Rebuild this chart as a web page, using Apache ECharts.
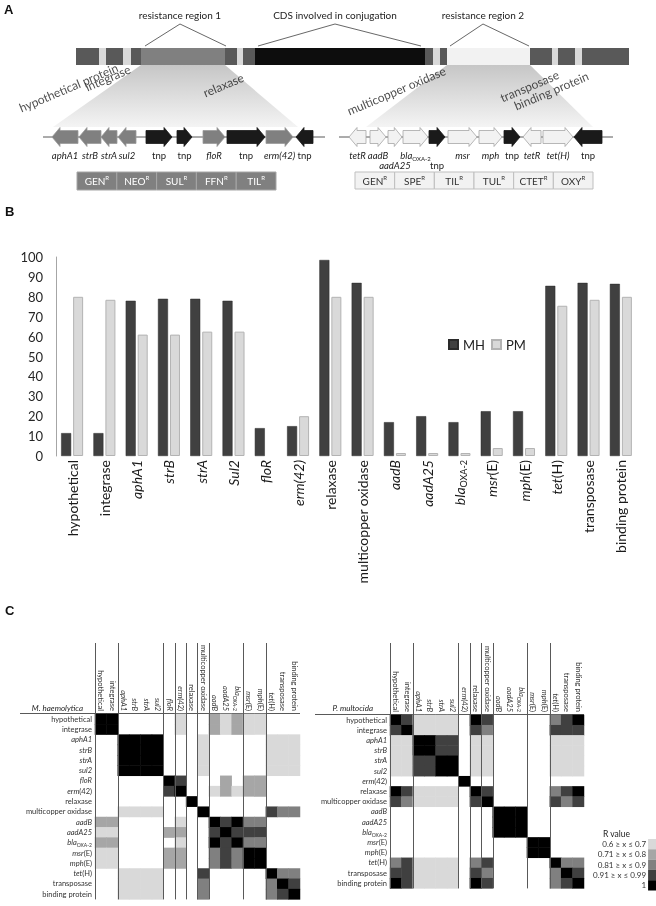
<!DOCTYPE html>
<html>
<head>
<meta charset="utf-8">
<title>resistance plasmid</title>
<script src="https://cdn.jsdelivr.net/npm/echarts@6.0.0/dist/echarts.min.js"></script>
<style>
html,body{margin:0;padding:0;background:#fff;}
#main{width:656px;height:906px;}
#main svg{will-change:transform;}
</style>
</head>
<body>
<div id="main"></div>
<script>
var FONT = 'Lato, "Noto Sans", sans-serif';

// ---- A: plasmid map (positions in map units) ----
var plasmidSegs = [[76,99,'orf'],[99,106,'gap'],[106,123,'orf'],[123,131,'gap'],[131,141,'orf'],
  [141,225,'res1'],[225,237,'orf'],[237,243,'gap'],[243,255,'orf'],[255,425,'tra'],[425,433,'orf'],
  [433,440,'gap'],[440,447,'orf'],[447,530,'res2'],[530,552,'orf'],[552,558,'gap'],[558,575,'orf'],
  [575,582,'gap'],[582,629,'orf']];
var regionNames = ['resistance region 1', 'CDS involved in conjugation', 'resistance region 2'];
var regionSpans = [[145,226,180],[258,421,335],[450,529,483]];
var regionLinks = [[141,225,53,298],[447,530,366,593]];
var geneRows = [[43,325],[339,613]];
// name, start, end, strand, kind, label line
var genesRegion1 = [['aphA1',52,78,-1,'res',0],['strB',79,101,-1,'res',0],['strA',101,117,-1,'res',0],
  ['sul2',118,136,-1,'res',0],['tnp',146,172,1,'tnp',0],['tnp',177,192,1,'tnp',0],['floR',203,225,1,'res',0],
  ['tnp',227,265,1,'tnp',0],['erm(42)',266,293,1,'res',0],['tnp',296,313,-1,'tnp',0]];
var genesRegion2 = [['tetR',349,366,-1,'res2',0],['aadB',370,386,1,'res2',0],['aadA25',388,402,1,'res2',1],
  ['blaOXA-2',403,428,1,'res2',0],['tnp',429,445,1,'tnp',1],['msr',448,477,1,'res2',0],['mph',479,502,1,'res2',0],
  ['tnp',504,520,1,'tnp',0],['tetR',523,541,-1,'res2',0],['tet(H)',543,573,1,'res2',0],['tnp',574,602,-1,'tnp',0]];
var drugs1 = ['GEN','NEO','SUL','FFN','TIL'];
var drugs2 = ['GEN','SPE','TIL','TUL','CTET','OXY'];
var cdsNotes = ['hypothetical protein','integrase','relaxase','multicopper oxidase','transposase','binding protein'];
var cdsNoteAt = [[22,114],[88,93],[206,99],[350,117],[503,104],[517,112]];

// ---- B: % of isolates carrying each gene ----
var genes = ['hypothetical','integrase','aphA1','strB','strA','Sul2','floR','erm(42)','relaxase',
  'multicopper oxidase','aadB','aadA25','blaOXA-2','msr(E)','mph(E)','tet(H)','transposase','binding protein'];
var mhPct = [11.5,11.5,78,79,79,78,14,15,98.5,87,17,20,17,22.5,22.5,85.5,87,86.5];
var pmPct = [80,78.5,61,61,62.5,62.5,null,20,80,80,1.5,1.5,1.5,4,4,75.5,78.5,80];

// ---- C: correlation classes (0 none, 1..5 legend classes) ----
var mhGenes = ['hypothetical','integrase','aphA1','strB','strA','sul2','floR','erm(42)','relaxase',
  'multicopper oxidase','aadB','aadA25','blaOXA-2','msr(E)','mph(E)','tet(H)','transposase','binding protein'];
var mhGroups = [2,4,1,1,1,1,3,2,3];
var mhR = [
  [5,5,0,0,0,0,0,1,0,0,2,1,2,1,1,0,0,0],
  [5,5,0,0,0,0,0,1,0,0,2,1,2,1,1,0,0,0],
  [0,0,5,5,5,5,0,0,0,1,0,0,0,0,0,1,1,1],
  [0,0,5,5,5,5,0,0,0,1,0,0,0,0,0,1,1,1],
  [0,0,5,5,5,5,0,0,0,1,0,0,0,0,0,1,1,1],
  [0,0,5,5,5,5,0,0,0,1,0,0,0,0,0,1,1,1],
  [0,0,0,0,0,0,5,4,0,0,0,2,0,2,2,0,0,0],
  [0,0,0,0,0,0,4,5,0,0,1,2,1,2,2,0,0,0],
  [0,0,0,0,0,0,0,0,5,0,0,0,0,0,0,0,0,0],
  [0,0,1,1,1,1,0,0,0,5,0,0,0,0,0,4,3,3],
  [2,2,0,0,0,0,0,1,0,0,5,4,5,3,3,0,0,0],
  [1,1,0,0,0,0,2,2,0,0,4,5,4,4,4,0,0,0],
  [2,2,0,0,0,0,0,1,0,0,5,4,5,3,3,0,0,0],
  [1,1,0,0,0,0,2,2,0,0,3,4,3,5,5,0,0,0],
  [1,1,0,0,0,0,2,2,0,0,3,4,3,5,5,0,0,0],
  [0,0,1,1,1,1,0,0,0,4,0,0,0,0,0,5,3,3],
  [0,0,1,1,1,1,0,0,0,3,0,0,0,0,0,3,5,4],
  [0,0,1,1,1,1,0,0,0,3,0,0,0,0,0,3,4,5]
];
var pmGenes = ['hypothetical','integrase','aphA1','strB','strA','sul2','erm(42)','relaxase',
  'multicopper oxidase','aadB','aadA25','blaOXA-2','msr(E)','mph(E)','tet(H)','transposase','binding protein'];
var pmGroups = [2,4,1,1,1,3,2,3];
var pmR = [
  [5,4,1,1,1,1,0,5,4,0,0,0,0,0,3,4,5],
  [4,5,1,1,1,1,0,4,3,0,0,0,0,0,4,4,4],
  [1,1,5,5,4,4,0,1,1,0,0,0,0,0,1,1,1],
  [1,1,5,5,4,4,0,1,1,0,0,0,0,0,1,1,1],
  [1,1,4,4,5,5,0,1,1,0,0,0,0,0,1,1,1],
  [1,1,4,4,5,5,0,1,1,0,0,0,0,0,1,1,1],
  [0,0,0,0,0,0,5,0,0,0,0,0,0,0,0,0,0],
  [5,4,1,1,1,1,0,5,4,0,0,0,0,0,3,4,5],
  [4,3,1,1,1,1,0,4,5,0,0,0,0,0,4,3,4],
  [0,0,0,0,0,0,0,0,0,5,5,5,0,0,0,0,0],
  [0,0,0,0,0,0,0,0,0,5,5,5,0,0,0,0,0],
  [0,0,0,0,0,0,0,0,0,5,5,5,0,0,0,0,0],
  [0,0,0,0,0,0,0,0,0,0,0,0,5,5,0,0,0],
  [0,0,0,0,0,0,0,0,0,0,0,0,5,5,0,0,0],
  [3,4,1,1,1,1,0,3,4,0,0,0,0,0,5,3,3],
  [4,4,1,1,1,1,0,4,3,0,0,0,0,0,3,5,4],
  [5,4,1,1,1,1,0,5,4,0,0,0,0,0,3,4,5]
];
var rClasses = ['0.6 \u2265 x \u2264 0.7','0.71 \u2265 x \u2264 0.8','0.81 \u2265 x \u2264 0.9','0.91 \u2265 x \u2264 0.99','1'];

// layout
var BAR_TOP = 48, BAR_BOT = 65, TRAP_BOT = 127, GENE_Y = 137, APEX_Y = 24, TITLE_Y = 15;
var LABEL_Y = [155, 165];
var NOTE_ROTATE = 23;
var drugSpans = [[77,276],[355,593]];
var segColor = {orf:'#595959', gap:'#d9d9d9', res1:'#808080', tra:'#0d0d0d', res2:'#f2f2f2'};
var geneStyle = {res:{fill:'#808080', stroke:'#9a9a9a'}, tnp:{fill:'#1a1a1a', stroke:'#1a1a1a'}, res2:{fill:'#f2f2f2', stroke:'#a6a6a6'}};
var classColor = ['#d9d9d9','#a6a6a6','#808080','#404040','#000000'];
var plainNames = ['hypothetical','integrase','relaxase','multicopper oxidase','transposase','binding protein','tnp'];

var allGenes = genesRegion1.concat(genesRegion2);

function fmtGene(n, splitParen) {
  if (plainNames.indexOf(n) >= 0) return n;
  if (n === 'blaOXA-2') return '{i|bla}{s|OXA-2}';
  var k = n.indexOf('(');
  if (k > 0 && (splitParen || n !== 'erm(42)')) return '{i|' + n.slice(0, k) + '}' + n.slice(k);
  return '{i|' + n + '}';
}
function fmtMap(n) {
  if (n === 'tnp') return n;
  if (n === 'blaOXA-2') return '{i|bla}{s|OXA-2}';
  return '{i|' + n + '}';
}
function boundaries(groups) {
  var out = [[0, 0]], acc = 0;
  for (var i = 0; i < groups.length - 1; i++) { acc += groups[i]; out.push([acc, 0]); }
  return out;
}
function cells(m) {
  var out = [];
  m.forEach(function (row, r) {
    row.forEach(function (v, c) { if (v > 0) out.push([c, r, v]); });
  });
  return out;
}

var richMap = {
  i: {fontStyle:'italic', fontSize:9.5, fontFamily:FONT, fill:'#222', lineHeight:12},
  s: {fontSize:6, fontFamily:FONT, verticalAlign:'bottom', fill:'#222'}
};

function renderTrap(params, api) {
  var a = api.coord([api.value(0), BAR_BOT]), b = api.coord([api.value(1), BAR_BOT]);
  var c = api.coord([api.value(3), TRAP_BOT]), d = api.coord([api.value(2), TRAP_BOT]);
  return {type:'polygon', shape:{points:[a,b,c,d]},
    style:{fill:new echarts.graphic.LinearGradient(0,0,0,1,[{offset:0,color:'#c6c6c6'},{offset:1,color:'#f4f4f4'}])}};
}
function renderBackbone(params, api) {
  var a = api.coord([api.value(0), GENE_Y]), b = api.coord([api.value(1), GENE_Y]);
  return {type:'line', shape:{x1:a[0], y1:a[1], x2:b[0], y2:b[1]}, style:{stroke:'#595959', lineWidth:1}};
}
function renderSeg(params, api) {
  var a = api.coord([api.value(0), BAR_TOP]), b = api.coord([api.value(1), BAR_BOT]);
  return {type:'rect', shape:{x:a[0], y:a[1], width:b[0]-a[0], height:b[1]-a[1]},
    style:{fill:segColor[plasmidSegs[params.dataIndex][2]]}};
}
function renderCallout(params, api) {
  var s = api.coord([api.value(0), BAR_TOP - 2]), e = api.coord([api.value(1), BAR_TOP - 2]);
  var p = api.coord([api.value(2), APEX_Y]), t = api.coord([api.value(2), TITLE_Y]);
  return {type:'group', children:[
    {type:'polyline', shape:{points:[s, p, e]}, style:{stroke:'#404040', lineWidth:0.8, fill:null}},
    {type:'text', x:t[0], y:t[1], style:{text:regionNames[params.dataIndex], align:'center', verticalAlign:'middle',
      fontSize:10, fontFamily:FONT, fill:'#222'}}
  ]};
}
function renderGene(params, api) {
  var g = allGenes[params.dataIndex];
  var a = api.coord([api.value(0), GENE_Y]), b = api.coord([api.value(1), GENE_Y]);
  var x0 = a[0], x1 = b[0], cy = a[1];
  var bh = 6.5, hh = 9.5, hl = Math.min(8, (x1 - x0) * 0.55);
  var pts;
  if (g[3] > 0) {
    pts = [[x0,cy-bh],[x1-hl,cy-bh],[x1-hl,cy-hh],[x1,cy],[x1-hl,cy+hh],[x1-hl,cy+bh],[x0,cy+bh]];
  } else {
    pts = [[x1,cy-bh],[x0+hl,cy-bh],[x0+hl,cy-hh],[x0,cy],[x0+hl,cy+hh],[x0+hl,cy+bh],[x1,cy+bh]];
  }
  var st = geneStyle[g[4]];
  var ly = api.coord([0, LABEL_Y[g[5]]])[1];
  return {type:'group', children:[
    {type:'polygon', shape:{points:pts}, style:{fill:st.fill, stroke:st.stroke, lineWidth:0.8}},
    {type:'text', x:(x0 + x1) / 2, y:ly, style:{text:fmtMap(g[0]), rich:richMap, align:'center', verticalAlign:'middle',
      fontSize:9.5, fontFamily:FONT, fill:'#222'}}
  ]};
}
function renderDrug(params, api) {
  var r = api.value(0), i = api.value(1);
  var list = r === 0 ? drugs1 : drugs2, span = drugSpans[r];
  var w = (span[1] - span[0]) / list.length;
  var a = api.coord([span[0] + i * w, 172]), b = api.coord([span[0] + (i + 1) * w, r === 0 ? 190 : 189]);
  var dark = r === 0;
  var tc = dark ? '#ffffff' : '#333333';
  return {type:'group', children:[
    {type:'rect', shape:{x:a[0], y:a[1], width:b[0]-a[0], height:b[1]-a[1]},
      style:{fill:dark ? '#808080' : '#f2f2f2', stroke:dark ? '#a6a6a6' : '#bfbfbf', lineWidth:1}},
    {type:'text', x:(a[0] + b[0]) / 2, y:(a[1] + b[1]) / 2, style:{text:'{a|' + list[i] + '}{r|R}', align:'center', verticalAlign:'middle',
      rich:{a:{fontSize:10, fontFamily:FONT, fill:tc, lineHeight:13}, r:{fontSize:6, fontFamily:FONT, fill:tc, verticalAlign:'top'}}}}
  ]};
}
function sepRenderer(nRows, ext) {
  return function (params, api) {
    var i = api.value(0);
    var sz = api.size([1, 1]);
    var c0 = api.coord([i, 0]), c1 = api.coord([i, nRows - 1]);
    var x = Math.round(c0[0] - sz[0] / 2) + 0.5;
    return {type:'line', shape:{x1:x, y1:c0[1] - sz[1] / 2 - ext, x2:x, y2:c1[1] + sz[1] / 2},
      style:{stroke:'#595959', lineWidth:1}};
  };
}

var drugData = [];
drugs1.forEach(function (d, i) { drugData.push([0, i]); });
drugs2.forEach(function (d, i) { drugData.push([1, i]); });

var graphics = [
  {type:'text', left:4, top:3, style:{text:'A', font:'bold 13px "Liberation Sans"', fill:'#111'}},
  {type:'text', left:5, top:205, style:{text:'B', font:'bold 13px "Liberation Sans"', fill:'#111'}},
  {type:'text', left:5, top:604, style:{text:'C', font:'bold 13px "Liberation Sans"', fill:'#111'}},
  {type:'text', x:83, y:712, style:{text:'M. haemolytica', align:'right', verticalAlign:'bottom', fontStyle:'italic', fontSize:8, fontFamily:FONT, fill:'#222'}},
  {type:'text', x:373, y:712, style:{text:'P. multocida', align:'right', verticalAlign:'bottom', fontStyle:'italic', fontSize:8, fontFamily:FONT, fill:'#222'}},
  {type:'line', shape:{x1:20, y1:713.5, x2:300, y2:713.5}, style:{stroke:'#595959', lineWidth:1}},
  {type:'line', shape:{x1:315, y1:714.5, x2:584, y2:714.5}, style:{stroke:'#595959', lineWidth:1}},
  {type:'text', x:603, y:834, style:{text:'R value', verticalAlign:'middle', fontSize:8.5, fontFamily:FONT, fill:'#222'}}
];

var chart = echarts.init(document.getElementById('main'), null, {renderer:'svg'});
var option = {
  animation: false,
  textStyle: {fontFamily: FONT},
  graphic: graphics,
  grid: [
    {left:0, top:0, width:656, height:200, outerBoundsMode:'none'},
    {left:56, top:257, width:581, height:199, outerBoundsMode:'none'},
    {left:95, top:714, width:205, height:185.4, outerBoundsMode:'none'},
    {left:390, top:715, width:194, height:173.4, outerBoundsMode:'none'}
  ],
  xAxis: [
    {type:'value', gridIndex:0, min:0, max:656, show:false},
    {type:'category', gridIndex:1, data:genes, axisLine:{show:false}, axisTick:{show:false},
      axisLabel:{interval:0, rotate:90, margin:4, fontSize:14, color:'#1a1a1a', fontFamily:FONT,
        formatter:function (v) { return fmtGene(v, false); },
        rich:{i:{fontStyle:'italic', fontSize:14, fontFamily:FONT, color:'#1a1a1a', lineHeight:18},
              s:{fontSize:9, fontFamily:FONT, color:'#1a1a1a', verticalAlign:'bottom'}}}},
    {type:'category', gridIndex:2, position:'top', data:mhGenes, axisLine:{show:false}, axisTick:{show:false},
      axisLabel:{interval:0, rotate:90, margin:3, fontSize:7.5, color:'#333', fontFamily:FONT,
        formatter:function (v) { return fmtGene(v, true); },
        rich:{i:{fontStyle:'italic', fontSize:7.5, fontFamily:FONT, color:'#333', lineHeight:10},
              s:{fontSize:5, fontFamily:FONT, color:'#333', verticalAlign:'bottom'}}}},
    {type:'category', gridIndex:3, position:'top', data:pmGenes, axisLine:{show:false}, axisTick:{show:false},
      axisLabel:{interval:0, rotate:90, margin:3, fontSize:7.5, color:'#333', fontFamily:FONT,
        formatter:function (v) { return fmtGene(v, true); },
        rich:{i:{fontStyle:'italic', fontSize:7.5, fontFamily:FONT, color:'#333', lineHeight:10},
              s:{fontSize:5, fontFamily:FONT, color:'#333', verticalAlign:'bottom'}}}}
  ],
  yAxis: [
    {type:'value', gridIndex:0, min:0, max:200, inverse:true, show:false},
    {type:'value', gridIndex:1, min:0, max:100, interval:10, splitLine:{show:false},
      axisLine:{show:true, lineStyle:{color:'#a6a6a6', width:1}}, axisTick:{show:false},
      axisLabel:{fontSize:13, color:'#262626', margin:13, fontFamily:FONT}},
    {type:'category', gridIndex:2, inverse:true, data:mhGenes, axisLine:{show:false}, axisTick:{show:false},
      axisLabel:{interval:0, margin:3, fontSize:7.5, color:'#333', fontFamily:FONT,
        formatter:function (v) { return fmtGene(v, true); },
        rich:{i:{fontStyle:'italic', fontSize:7.5, fontFamily:FONT, color:'#333', lineHeight:10},
              s:{fontSize:5, fontFamily:FONT, color:'#333', verticalAlign:'bottom'}}}},
    {type:'category', gridIndex:3, inverse:true, data:pmGenes, axisLine:{show:false}, axisTick:{show:false},
      axisLabel:{interval:0, margin:3, fontSize:7.5, color:'#333', fontFamily:FONT,
        formatter:function (v) { return fmtGene(v, true); },
        rich:{i:{fontStyle:'italic', fontSize:7.5, fontFamily:FONT, color:'#333', lineHeight:10},
              s:{fontSize:5, fontFamily:FONT, color:'#333', verticalAlign:'bottom'}}}}
  ],
  legend: {data:['MH','PM'], left:443, top:333, icon:'rect', itemWidth:9, itemHeight:9, itemGap:6,
    textStyle:{fontSize:13, color:'#222', fontFamily:FONT}, selectedMode:false},
  visualMap: {type:'piecewise', seriesIndex:[9, 10], orient:'vertical', inverse:true, left:593, top:839,
    itemWidth:8, itemHeight:10.3, itemGap:0, itemSymbol:'rect', textGap:2, padding:0, selectedMode:false,
    textStyle:{fontSize:8, color:'#333', fontFamily:FONT},
    pieces: rClasses.map(function (t, k) { return {value:k + 1, label:t, color:classColor[k]}; })},
  series: [
    {type:'custom', xAxisIndex:0, yAxisIndex:0, clip:false, silent:true, renderItem:renderTrap, data:regionLinks},
    {type:'custom', xAxisIndex:0, yAxisIndex:0, clip:false, silent:true, renderItem:renderBackbone, data:geneRows},
    {type:'custom', xAxisIndex:0, yAxisIndex:0, clip:false, silent:true, renderItem:renderSeg,
      data:plasmidSegs.map(function (s) { return [s[0], s[1]]; })},
    {type:'custom', xAxisIndex:0, yAxisIndex:0, clip:false, silent:true, renderItem:renderCallout, data:regionSpans},
    {type:'scatter', xAxisIndex:0, yAxisIndex:0, silent:true, symbolSize:0, data:cdsNoteAt, z:5,
      label:{show:true, position:[0, 0], rotate:NOTE_ROTATE, align:'left', verticalAlign:'bottom', fontSize:12,
        fontFamily:FONT, color:'#222', formatter:function (p) { return cdsNotes[p.dataIndex]; }},
      labelLayout:{hideOverlap:false}},
    {type:'custom', xAxisIndex:0, yAxisIndex:0, clip:false, silent:true, renderItem:renderGene,
      data:allGenes.map(function (g) { return [g[1], g[2]]; })},
    {type:'custom', xAxisIndex:0, yAxisIndex:0, clip:false, silent:true, renderItem:renderDrug, data:drugData},
    {name:'MH', type:'bar', xAxisIndex:1, yAxisIndex:1, data:mhPct, barWidth:10, barGap:'20%',
      itemStyle:{color:'#404040', borderColor:'#2a2a2a', borderWidth:0.5}},
    {name:'PM', type:'bar', xAxisIndex:1, yAxisIndex:1, data:pmPct, barWidth:10, barGap:'20%',
      itemStyle:{color:'#d9d9d9', borderColor:'#b3b3b3', borderWidth:1}},
    {type:'heatmap', xAxisIndex:2, yAxisIndex:2, data:cells(mhR), emphasis:{disabled:true}},
    {type:'heatmap', xAxisIndex:3, yAxisIndex:3, data:cells(pmR), emphasis:{disabled:true}},
    {type:'custom', xAxisIndex:2, yAxisIndex:2, clip:false, silent:true, renderItem:sepRenderer(mhGenes.length, 71), data:boundaries(mhGroups)},
    {type:'custom', xAxisIndex:3, yAxisIndex:3, clip:false, silent:true, renderItem:sepRenderer(pmGenes.length, 72), data:boundaries(pmGroups)}
  ]
};
chart.setOption(option);
</script>
</body>
</html>
